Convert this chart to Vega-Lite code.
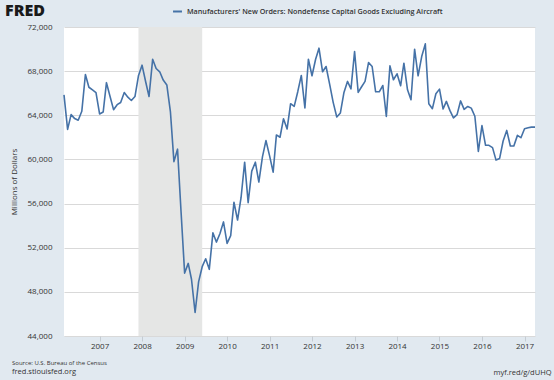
{
  "$schema": "https://vega.github.io/schema/vega-lite/v6.json",
  "width": 471,
  "height": 309,
  "autosize": {"type": "none"},
  "padding": {"left": 64, "top": 27, "right": 19, "bottom": 44},
  "background": "#e1e9f0",
  "config": {"view": {"stroke": null, "fill": "#ffffff"}, "font": "Open Sans"},
  "title": {
    "text": "Source: U.S. Bureau of the Census",
    "subtitle": "fred.stlouisfed.org",
    "orient": "bottom",
    "anchor": "start",
    "frame": "group",
    "dx": -52,
    "offset": -16,
    "fontSize": 6,
    "fontWeight": "normal",
    "color": "#333333",
    "subtitleFontSize": 7.5,
    "subtitleColor": "#333333",
    "subtitlePadding": 2
  },
  "layer": [
    {
      "data": {"values": [{"start": "2007-12-01", "end": "2009-06-01"}]},
      "mark": {"type": "rect", "color": "#e5e6e5"},
      "encoding": {
        "x": {"field": "start", "type": "temporal"},
        "x2": {"field": "end"}
      }
    },
    {
      "data": {"values": [
        {"date": "2006-03-01", "value": 65850},
        {"date": "2006-04-01", "value": 62720},
        {"date": "2006-05-01", "value": 64060},
        {"date": "2006-06-01", "value": 63700},
        {"date": "2006-07-01", "value": 63550},
        {"date": "2006-08-01", "value": 64360},
        {"date": "2006-09-01", "value": 67700},
        {"date": "2006-10-01", "value": 66540},
        {"date": "2006-11-01", "value": 66300},
        {"date": "2006-12-01", "value": 66060},
        {"date": "2007-01-01", "value": 64120},
        {"date": "2007-02-01", "value": 64300},
        {"date": "2007-03-01", "value": 66955},
        {"date": "2007-04-01", "value": 65700},
        {"date": "2007-05-01", "value": 64510},
        {"date": "2007-06-01", "value": 64960},
        {"date": "2007-07-01", "value": 65160},
        {"date": "2007-08-01", "value": 66060},
        {"date": "2007-09-01", "value": 65640},
        {"date": "2007-10-01", "value": 65340},
        {"date": "2007-11-01", "value": 65700},
        {"date": "2007-12-01", "value": 67580},
        {"date": "2008-01-01", "value": 68540},
        {"date": "2008-02-01", "value": 67040},
        {"date": "2008-03-01", "value": 65700},
        {"date": "2008-04-01", "value": 69070},
        {"date": "2008-05-01", "value": 68240},
        {"date": "2008-06-01", "value": 67940},
        {"date": "2008-07-01", "value": 67190},
        {"date": "2008-08-01", "value": 66750},
        {"date": "2008-09-01", "value": 64300},
        {"date": "2008-10-01", "value": 59800},
        {"date": "2008-11-01", "value": 60930},
        {"date": "2008-12-01", "value": 55300},
        {"date": "2009-01-01", "value": 49700},
        {"date": "2009-02-01", "value": 50580},
        {"date": "2009-03-01", "value": 49140},
        {"date": "2009-04-01", "value": 46130},
        {"date": "2009-05-01", "value": 48900},
        {"date": "2009-06-01", "value": 50280},
        {"date": "2009-07-01", "value": 51000},
        {"date": "2009-08-01", "value": 50040},
        {"date": "2009-09-01", "value": 53350},
        {"date": "2009-10-01", "value": 52510},
        {"date": "2009-11-01", "value": 53290},
        {"date": "2009-12-01", "value": 54340},
        {"date": "2010-01-01", "value": 52390},
        {"date": "2010-02-01", "value": 53100},
        {"date": "2010-03-01", "value": 56120},
        {"date": "2010-04-01", "value": 54510},
        {"date": "2010-05-01", "value": 56530},
        {"date": "2010-06-01", "value": 59750},
        {"date": "2010-07-01", "value": 56080},
        {"date": "2010-08-01", "value": 58940},
        {"date": "2010-09-01", "value": 59750},
        {"date": "2010-10-01", "value": 57950},
        {"date": "2010-11-01", "value": 60230},
        {"date": "2010-12-01", "value": 61710},
        {"date": "2011-01-01", "value": 60350},
        {"date": "2011-02-01", "value": 58850},
        {"date": "2011-03-01", "value": 62220},
        {"date": "2011-04-01", "value": 62010},
        {"date": "2011-05-01", "value": 63690},
        {"date": "2011-06-01", "value": 62760},
        {"date": "2011-07-01", "value": 65050},
        {"date": "2011-08-01", "value": 64810},
        {"date": "2011-09-01", "value": 66160},
        {"date": "2011-10-01", "value": 67610},
        {"date": "2011-11-01", "value": 64660},
        {"date": "2011-12-01", "value": 69080},
        {"date": "2012-01-01", "value": 67580},
        {"date": "2012-02-01", "value": 69080},
        {"date": "2012-03-01", "value": 70080},
        {"date": "2012-04-01", "value": 67940},
        {"date": "2012-05-01", "value": 68420},
        {"date": "2012-06-01", "value": 66800},
        {"date": "2012-07-01", "value": 65170},
        {"date": "2012-08-01", "value": 63850},
        {"date": "2012-09-01", "value": 64210},
        {"date": "2012-10-01", "value": 66040},
        {"date": "2012-11-01", "value": 67070},
        {"date": "2012-12-01", "value": 66400},
        {"date": "2013-01-01", "value": 69780},
        {"date": "2013-02-01", "value": 66070},
        {"date": "2013-03-01", "value": 66560},
        {"date": "2013-04-01", "value": 67070},
        {"date": "2013-05-01", "value": 68780},
        {"date": "2013-06-01", "value": 68420},
        {"date": "2013-07-01", "value": 66130},
        {"date": "2013-08-01", "value": 66130},
        {"date": "2013-09-01", "value": 66700},
        {"date": "2013-10-01", "value": 63900},
        {"date": "2013-11-01", "value": 68480},
        {"date": "2013-12-01", "value": 67220},
        {"date": "2014-01-01", "value": 67760},
        {"date": "2014-02-01", "value": 66680},
        {"date": "2014-03-01", "value": 68720},
        {"date": "2014-04-01", "value": 66310},
        {"date": "2014-05-01", "value": 65410},
        {"date": "2014-06-01", "value": 69990},
        {"date": "2014-07-01", "value": 67580},
        {"date": "2014-08-01", "value": 69320},
        {"date": "2014-09-01", "value": 70470},
        {"date": "2014-10-01", "value": 65050},
        {"date": "2014-11-01", "value": 64600},
        {"date": "2014-12-01", "value": 65950},
        {"date": "2015-01-01", "value": 66370},
        {"date": "2015-02-01", "value": 64570},
        {"date": "2015-03-01", "value": 65260},
        {"date": "2015-04-01", "value": 64420},
        {"date": "2015-05-01", "value": 63760},
        {"date": "2015-06-01", "value": 64060},
        {"date": "2015-07-01", "value": 65300},
        {"date": "2015-08-01", "value": 64540},
        {"date": "2015-09-01", "value": 64800},
        {"date": "2015-10-01", "value": 64650},
        {"date": "2015-11-01", "value": 63910},
        {"date": "2015-12-01", "value": 60720},
        {"date": "2016-01-01", "value": 63070},
        {"date": "2016-02-01", "value": 61280},
        {"date": "2016-03-01", "value": 61280},
        {"date": "2016-04-01", "value": 61070},
        {"date": "2016-05-01", "value": 59940},
        {"date": "2016-06-01", "value": 60090},
        {"date": "2016-07-01", "value": 61670},
        {"date": "2016-08-01", "value": 62630},
        {"date": "2016-09-01", "value": 61220},
        {"date": "2016-10-01", "value": 61220},
        {"date": "2016-11-01", "value": 62180},
        {"date": "2016-12-01", "value": 61970},
        {"date": "2017-01-01", "value": 62780},
        {"date": "2017-02-01", "value": 62870},
        {"date": "2017-03-01", "value": 62930},
        {"date": "2017-04-01", "value": 62930}
      ]},
      "mark": {"type": "line", "strokeWidth": 1.6, "strokeJoin": "round"},
      "encoding": {
        "x": {
          "field": "date",
          "type": "temporal",
          "scale": {"domain": ["2006-03-01", "2017-04-01"]},
          "axis": {
            "format": "%Y",
            "tickCount": {"interval": "year", "step": 1},
            "grid": false,
            "domain": false,
            "ticks": true,
            "tickColor": "#c5ccd3",
            "tickSize": 5,
            "labelPadding": 1,
            "labelFontSize": 8,
            "labelColor": "#333333",
            "title": "myf.red/g/dUHQ",
            "titleFontSize": 7.5,
            "titleFontWeight": "normal",
            "titleColor": "#333333",
            "titleAnchor": "end",
            "titleAlign": "right",
            "titleBaseline": "alphabetic",
            "titleX": 487,
            "titleY": 38
          }
        },
        "y": {
          "field": "value",
          "type": "quantitative",
          "scale": {"domain": [44000, 72000], "nice": false, "zero": false},
          "axis": {
            "values": [44000, 48000, 52000, 56000, 60000, 64000, 68000, 72000],
            "format": ",d",
            "domain": false,
            "ticks": false,
            "gridColor": "#d9d9d9",
            "gridWidth": 1.2,
            "labelPadding": 12,
            "labelFontSize": 8,
            "labelColor": "#333333",
            "title": "Millions of Dollars",
            "titleFontSize": 8,
            "titleFontWeight": "normal",
            "titleColor": "#333333",
            "titlePadding": 9
          }
        },
        "color": {
          "datum": "Manufacturers' New Orders: Nondefense Capital Goods Excluding Aircraft",
          "scale": {"range": ["#4572a7"]},
          "legend": {
            "orient": "none",
            "legendX": -59,
            "legendY": -21,
            "title": "FRED",
            "titleOrient": "left",
            "titleFontSize": 16,
            "titleFontWeight": 900,
            "titleColor": "#1a1a1a",
            "titlePadding": 127,
            "symbolType": "stroke",
            "symbolStrokeWidth": 2,
            "symbolSize": 80,
            "labelFontSize": 7.2,
            "labelFontWeight": 600,
            "labelColor": "#333333",
            "labelLimit": 400
          }
        }
      }
    }
  ]
}
